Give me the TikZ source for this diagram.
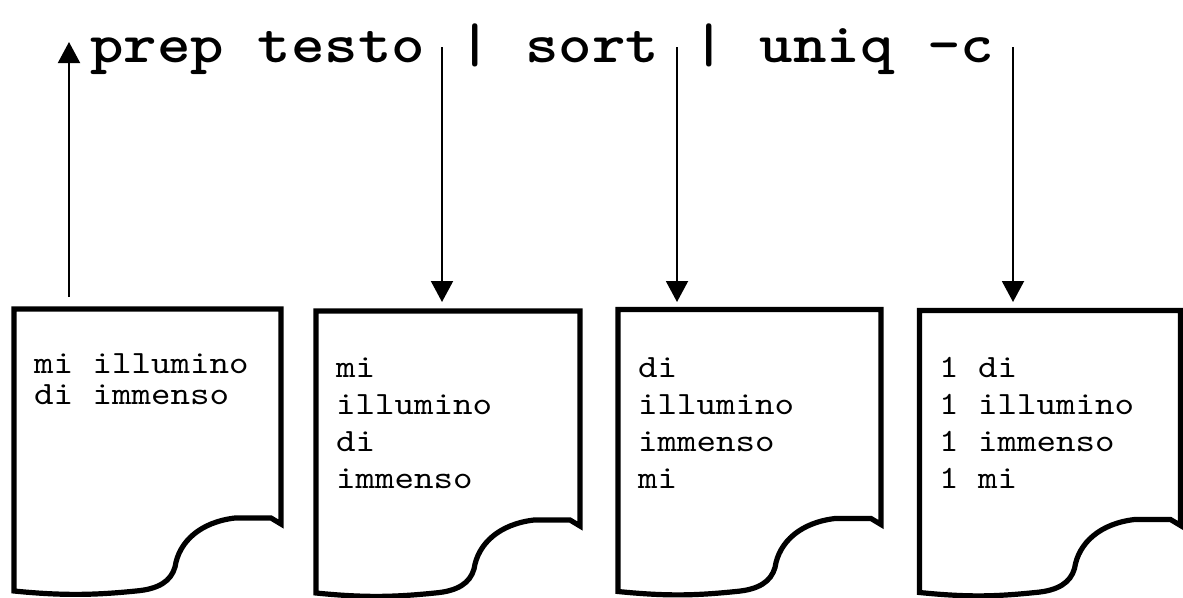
\documentclass[tikz,border=0pt]{standalone}
\usepackage{fontspec}
\newfontfamily\courfont{lmmono10-regular.otf}[FakeStretch=1.143]
\newfontfamily\courbold{lmmonolt10-bold.otf}[FakeStretch=1.139]
\usetikzlibrary{arrows.meta}
\tikzset{
  docline/.style={line width=5.2pt, line join=miter},
  flow/.style={line width=2pt, -{Triangle[length=21pt,width=22pt]}},
  doctext/.style={anchor=base west, inner sep=0pt, font=\courfont\fontsize{32.5}{37}\selectfont},
  titletext/.style={anchor=base west, inner sep=0pt, font=\courbold\fontsize{56}{60}\selectfont}
}
\newcommand\docshape[3]{%
  \draw[docline] (#1,#2+282) -- (#1,#2) -- (#3,#2) -- (#3,#2+215) -- (#3-10,#2+209) -- (#3-46,#2+209)
    .. controls (#3-80,#2+213) and (#3-102,#2+232) .. (#3-106,#2+258)
    .. controls (#3-110,#2+272) and (#3-122,#2+280) .. (#3-145,#2+282)
    .. controls (#3-185,#2+286) and (#1+50,#2+287) .. (#1,#2+282) -- cycle;}
\begin{document}
\begin{tikzpicture}[x=1pt,y=-1pt]
\useasboundingbox[fill=white] (0,0) rectangle (1183,597);
% title
\node[titletext] (title) at (90,62) {prep testo | sort | uniq -c};
% documents
\docshape{14}{309}{281}
\docshape{316}{311}{580}
\docshape{618}{309.5}{881}
\docshape{919.5}{310.5}{1180.5}
% texts
\node[doctext] (t1) at (34,373) {\fontsize{32.5}{31.5}\selectfont\vtop{\hbox{mi illumino}\hbox{di immenso}}};
\node[doctext] (t2) at (336,377) {\vtop{\hbox{mi}\hbox{illumino}\hbox{di}\hbox{immenso}}};
\node[doctext] (t3) at (638,377) {\vtop{\hbox{di}\hbox{illumino}\hbox{immenso}\hbox{mi}}};
\node[doctext] (t4) at (939,377) {\vtop{\hbox{1 di}\hbox{1 illumino}\hbox{1 immenso}\hbox{1 mi}}};
% arrow end points
\coordinate (a1s) at (69,297);
\coordinate (a1e) at (69,42);
\coordinate (a2s) at (442,47);
\coordinate (a2e) at (442,302);
\coordinate (a3s) at (677,47);
\coordinate (a3e) at (677,302);
\coordinate (a4s) at (1013,47);
\coordinate (a4e) at (1013,302);
\draw[flow] (a1s) -- (a1e);
\draw[flow] (a2s) -- (a2e);
\draw[flow] (a3s) -- (a3e);
\draw[flow] (a4s) -- (a4e);
\end{tikzpicture}
\end{document}
